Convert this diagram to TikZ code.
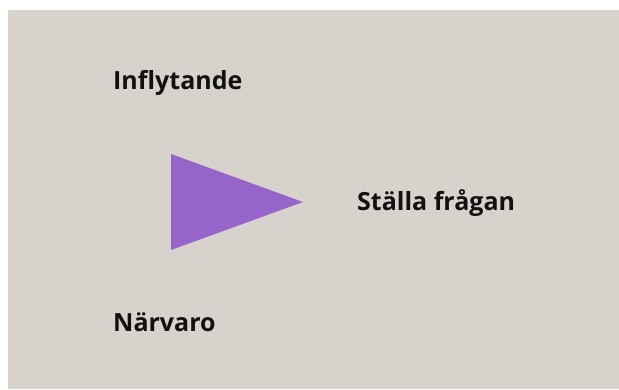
\documentclass[tikz,border=0pt]{standalone}
\usepackage{fontspec}
\setmainfont{Open Sans}
\definecolor{bgc}{HTML}{D8D2CC}
\definecolor{tri}{HTML}{9565C9}
\definecolor{txt}{HTML}{111111}
\begin{document}
\begin{tikzpicture}[x=1pt,y=-1pt,
  lbl/.style={anchor=base west,inner sep=0pt,font=\fontsize{25}{29}\selectfont\bfseries,text=txt}]
\useasboundingbox (0,0) rectangle (619,389);
\fill[bgc] (8,10) rectangle (619,389);
\fill[tri] (171,154) -- (171,250) -- (303,202) -- cycle;
\node[lbl] (a) at (113,89.5) {Inflytande};
\node[lbl] (b) at (357,210.5) {Ställa frågan};
\node[lbl] (c) at (113,331.5) {Närvaro};
\end{tikzpicture}
\end{document}
